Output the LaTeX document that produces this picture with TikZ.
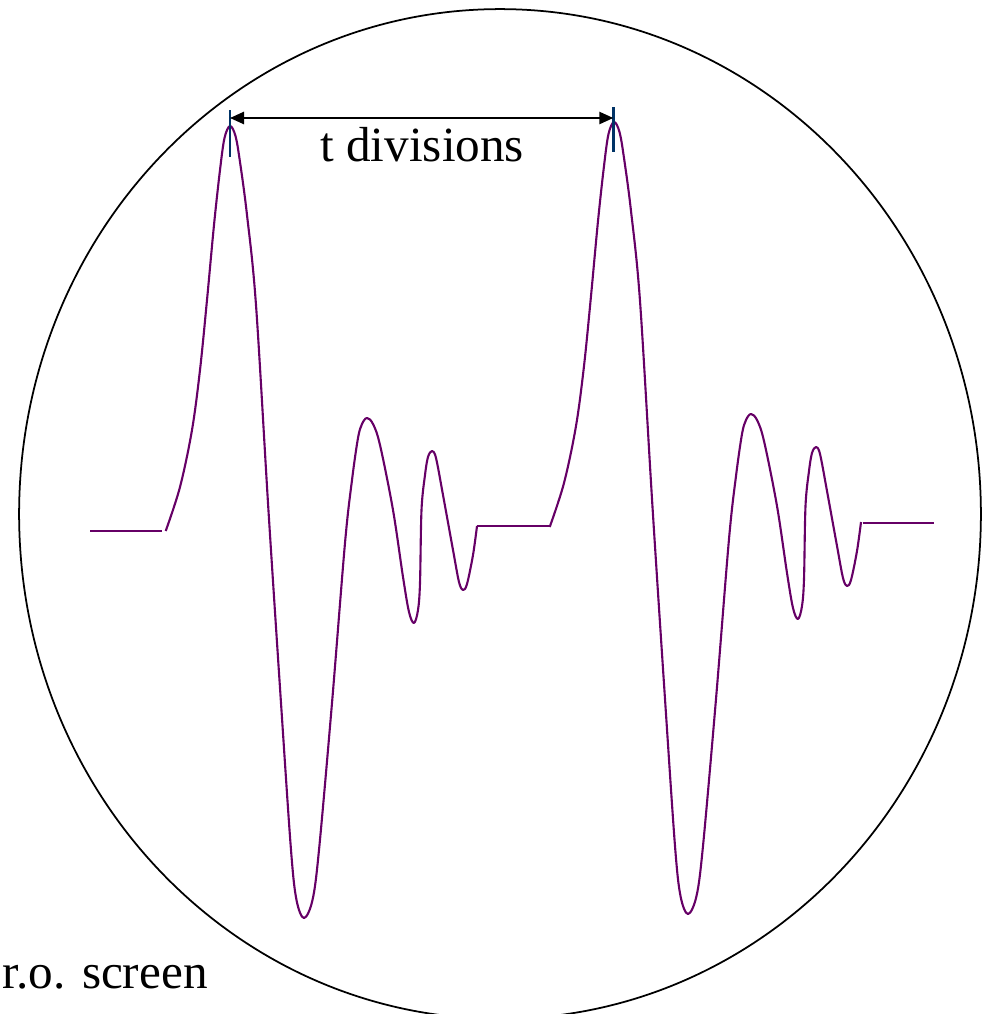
\documentclass[tikz,border=0pt]{standalone}
\usepackage{fontspec}
\setmainfont{Liberation Serif}
\usetikzlibrary{arrows.meta}
\definecolor{tracecol}{RGB}{102,0,102}
\definecolor{tickcol}{RGB}{0,51,102}

\begin{document}
\begin{tikzpicture}[x=0.02cm,y=-0.02cm,
	trace/.style={tracecol,line width=1.2pt,line join=round},
	marker/.style={tickcol,line width=1.6pt},
	span/.style={{Triangle[length=8pt,width=7pt]}-{Triangle[length=8pt,width=7pt]},line width=1pt},
	label/.style={font=\fontsize{28}{34}\selectfont,inner sep=0pt}]
			\useasboundingbox (0,0) rectangle (992,1014);
			\clip (0,0) rectangle (992,1014);
			\draw[line width=1pt] (500,514) ellipse [x radius=9.62cm, y radius=10.1cm];
			
			\draw[trace] (90,530.7) -- (162,530.7);
			\draw[trace] (477,526) -- (549,526);
			\draw[trace] (863,523) -- (934,523);
			
			\foreach \dx/\dy in {0/0,384/-4}
				\draw[trace,shift={(\dx,\dy)}] plot[smooth,tension=0.55] coordinates {
					(165.7,531) (180,487) (192,430) (200,370) (207,300) (214,225)
					(220,170) (224.5,138) (230,126) (235.5,136) (240,162) (247,215)
					(256,305) (268.5,511) (281,703) (291,850) (296.5,900) (304,918) (312.5,900)
					(319,850) (332,703) (345,543) (352,480) (358,438) (362,424) (367,418)
					(373,424) (380,445) (393,510) (403,577) (409,612) (414,623) (418,610)
					(420,583) (421.5,510) (425,475) (428,457) (432,451) (436,458) (443,495)
					(453,550) (459,582) (463,590) (467,584) (473,555) (477,526)};
			
			\coordinate (pkA) at (230,118);
			\coordinate (pkB) at (613.3,118);
			\draw[marker] (230,110) -- (230,157);
			\draw[marker] (613.3,107) -- (613.3,152);
			\draw[span] (pkA) -- (pkB);
			\node[label,anchor=base west] (tdiv) at (320,161) {t divisions};
			\node[label,anchor=base east] (screen) at (208,988) {c.r.o. screen};
		\end{tikzpicture}
\end{document}
